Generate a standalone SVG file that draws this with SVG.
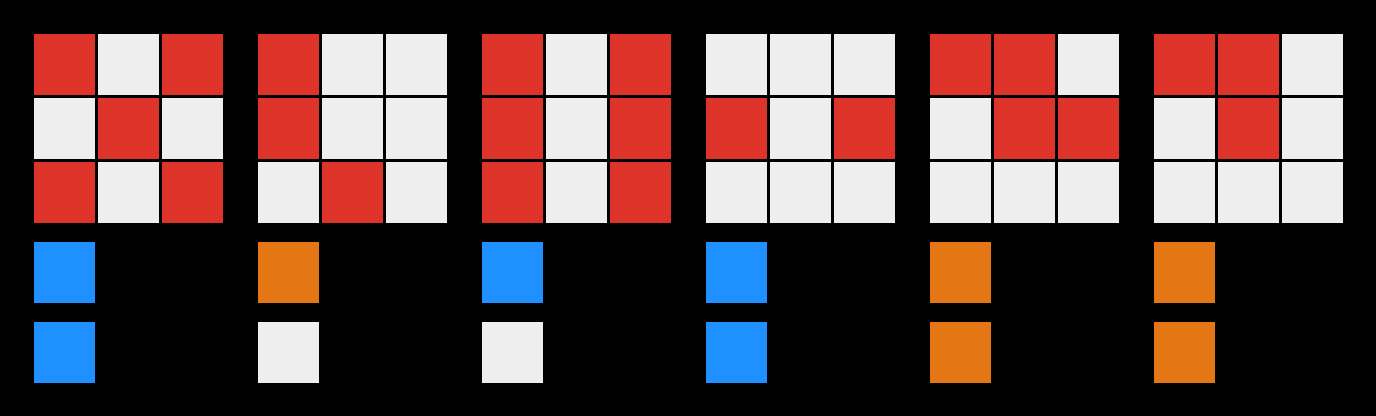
<svg xmlns="http://www.w3.org/2000/svg" width="1376" height="416" viewBox="0 0 1376 416">
<defs>
<style>
.r{fill:#de3329}.w{fill:#eeeeee}.b{fill:#1e90ff}.o{fill:#e47714}
</style>
<rect id="c" width="61" height="61"/>
</defs>
<rect width="1376" height="416" fill="#000"/>
<g id="grid1" transform="translate(34,34)">
<use href="#c" class="r" x="0" y="0"/><use href="#c" class="w" x="64" y="0"/><use href="#c" class="r" x="128" y="0"/>
<use href="#c" class="w" x="0" y="64"/><use href="#c" class="r" x="64" y="64"/><use href="#c" class="w" x="128" y="64"/>
<use href="#c" class="r" x="0" y="128"/><use href="#c" class="w" x="64" y="128"/><use href="#c" class="r" x="128" y="128"/>
<use href="#c" class="b" x="0" y="208"/><use href="#c" class="b" x="0" y="288"/>
</g>
<g id="grid2" transform="translate(258,34)">
<use href="#c" class="r" x="0" y="0"/><use href="#c" class="w" x="64" y="0"/><use href="#c" class="w" x="128" y="0"/>
<use href="#c" class="r" x="0" y="64"/><use href="#c" class="w" x="64" y="64"/><use href="#c" class="w" x="128" y="64"/>
<use href="#c" class="w" x="0" y="128"/><use href="#c" class="r" x="64" y="128"/><use href="#c" class="w" x="128" y="128"/>
<use href="#c" class="o" x="0" y="208"/><use href="#c" class="w" x="0" y="288"/>
</g>
<g id="grid3" transform="translate(482,34)">
<use href="#c" class="r" x="0" y="0"/><use href="#c" class="w" x="64" y="0"/><use href="#c" class="r" x="128" y="0"/>
<use href="#c" class="r" x="0" y="64"/><use href="#c" class="w" x="64" y="64"/><use href="#c" class="r" x="128" y="64"/>
<use href="#c" class="r" x="0" y="128"/><use href="#c" class="w" x="64" y="128"/><use href="#c" class="r" x="128" y="128"/>
<use href="#c" class="b" x="0" y="208"/><use href="#c" class="w" x="0" y="288"/>
</g>
<g id="grid4" transform="translate(706,34)">
<use href="#c" class="w" x="0" y="0"/><use href="#c" class="w" x="64" y="0"/><use href="#c" class="w" x="128" y="0"/>
<use href="#c" class="r" x="0" y="64"/><use href="#c" class="w" x="64" y="64"/><use href="#c" class="r" x="128" y="64"/>
<use href="#c" class="w" x="0" y="128"/><use href="#c" class="w" x="64" y="128"/><use href="#c" class="w" x="128" y="128"/>
<use href="#c" class="b" x="0" y="208"/><use href="#c" class="b" x="0" y="288"/>
</g>
<g id="grid5" transform="translate(930,34)">
<use href="#c" class="r" x="0" y="0"/><use href="#c" class="r" x="64" y="0"/><use href="#c" class="w" x="128" y="0"/>
<use href="#c" class="w" x="0" y="64"/><use href="#c" class="r" x="64" y="64"/><use href="#c" class="r" x="128" y="64"/>
<use href="#c" class="w" x="0" y="128"/><use href="#c" class="w" x="64" y="128"/><use href="#c" class="w" x="128" y="128"/>
<use href="#c" class="o" x="0" y="208"/><use href="#c" class="o" x="0" y="288"/>
</g>
<g id="grid6" transform="translate(1154,34)">
<use href="#c" class="r" x="0" y="0"/><use href="#c" class="r" x="64" y="0"/><use href="#c" class="w" x="128" y="0"/>
<use href="#c" class="w" x="0" y="64"/><use href="#c" class="r" x="64" y="64"/><use href="#c" class="w" x="128" y="64"/>
<use href="#c" class="w" x="0" y="128"/><use href="#c" class="w" x="64" y="128"/><use href="#c" class="w" x="128" y="128"/>
<use href="#c" class="o" x="0" y="208"/><use href="#c" class="o" x="0" y="288"/>
</g>
<g id="connectors"/>
</svg>
